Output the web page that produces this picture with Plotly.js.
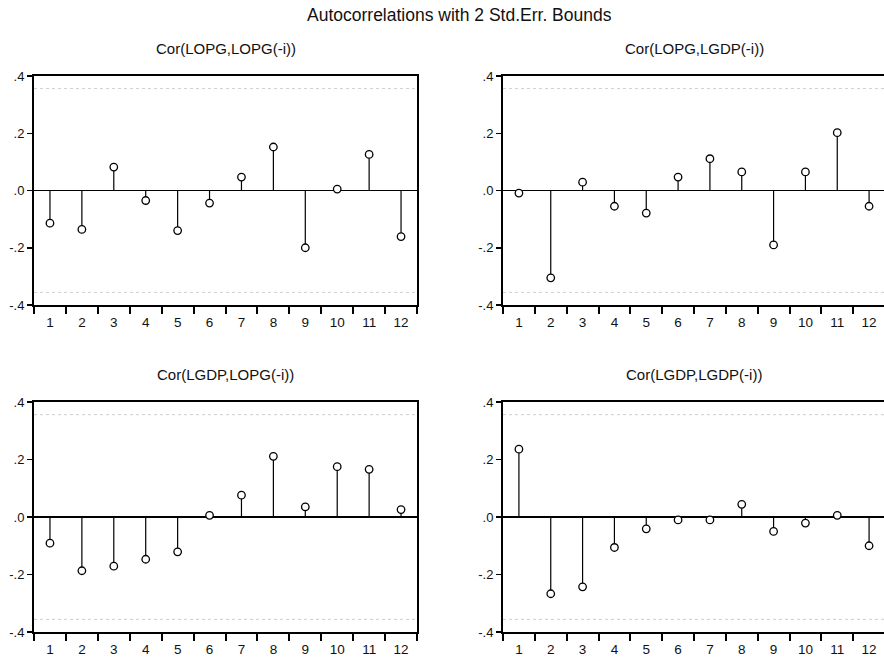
<!DOCTYPE html>
<html><head><meta charset="utf-8">
<script src="https://cdn.plot.ly/plotly-3.0.1.min.js"></script>
<style>html,body{margin:0;padding:0;overflow:hidden;background:#fff}</style>
</head><body><div id="chart" style="width:887px;height:658px"></div>
<script>
const mainTitle = 'Autocorrelations with 2 Std.Err. Bounds';
const lags = [1,2,3,4,5,6,7,8,9,10,11,12];
const xTickText = ['1','2','3','4','5','6','7','8','9','10','11','12'];
const panelTitles = ['Cor(LOPG,LOPG(-i))','Cor(LOPG,LGDP(-i))','Cor(LGDP,LOPG(-i))','Cor(LGDP,LGDP(-i))'];
const corLOPG_LOPG = [-0.114,-0.136,0.082,-0.035,-0.140,-0.044,0.047,0.152,-0.200,0.005,0.126,-0.161];
const corLOPG_LGDP = [-0.009,-0.305,0.029,-0.055,-0.079,0.047,0.111,0.065,-0.190,0.065,0.202,-0.055];
const corLGDP_LOPG = [-0.091,-0.187,-0.171,-0.147,-0.121,0.006,0.076,0.211,0.035,0.175,0.166,0.026];
const corLGDP_LGDP = [0.236,-0.267,-0.243,-0.106,-0.041,-0.010,-0.010,0.044,-0.050,-0.021,0.006,-0.100];
const stdErrBound = 0.356;
const yTickVals = [-0.4,-0.2,0,0.2,0.4];
const yTickText = ['-.4','-.2','.0','.2','.4'];

const series = [corLOPG_LOPG, corLOPG_LGDP, corLGDP_LOPG, corLGDP_LGDP];
const W = 887, H = 658;
// pixel boxes [left, right, top, bottom]
const boxes = [[34,417,76,305],[503,885,76,305],[34,417,402,632],[503,885,402,632]];
const font = 'Arial, "Liberation Sans", sans-serif';

const traces = [];
const layout = {
  width: W, height: H, margin:{l:0,r:0,t:0,b:0},
  paper_bgcolor:'#fff', plot_bgcolor:'#fff', showlegend:false,
  font:{family:font, color:'#000', size:12},
  annotations:[], shapes:[]
};
layout.annotations.push({text: mainTitle, xref:'paper', yref:'paper', x: 459/W, y: 1-15/H,
  xanchor:'center', yanchor:'middle', showarrow:false, font:{size:17.5, family:font, color:'#111'}});

const halfTicks = [];
for (let i=0;i<=lags.length;i++) halfTicks.push(lags[0]-0.5+i);

series.forEach((vals, k) => {
  const n = k+1;
  const xa = n===1?'x':'x'+n, ya = n===1?'y':'y'+n;
  const b = boxes[k];
  // bounds
  [stdErrBound, -stdErrBound].forEach(bv => {
    traces.push({type:'scatter', mode:'lines', xaxis:xa, yaxis:ya,
      x:[halfTicks[0], halfTicks[halfTicks.length-1]], y:[bv,bv],
      line:{color:'#cfcfcf', width:1, dash:'dot'}, hoverinfo:'skip'});
  });
  // stems
  const sx=[], sy=[];
  lags.forEach((l,i)=>{ sx.push(l,l,null); sy.push(0,vals[i],null); });
  traces.push({type:'scatter', mode:'lines', xaxis:xa, yaxis:ya, x:sx, y:sy,
    line:{color:'#000', width:1.2}, hoverinfo:'skip'});
  traces.push({type:'scatter', mode:'markers', xaxis:xa, yaxis:ya, x:lags, y:vals,
    marker:{symbol:'circle', size:7.5, color:'#fff', line:{color:'#000', width:1.3}}});

  const xname = n===1?'xaxis':'xaxis'+n, yname = n===1?'yaxis':'yaxis'+n;
  layout[xname] = {domain:[b[0]/W, b[1]/W], anchor:ya, range:[halfTicks[0], halfTicks[halfTicks.length-1]],
    tickmode:'array', tickvals:lags, ticktext:xTickText, ticks:'', ticklen:0, ticklabelstandoff:4,
    showgrid:false, zeroline:false, showline:true, mirror:true, linecolor:'#000', linewidth:2,
    tickfont:{size:13.5, family:font, color:'#111'}, fixedrange:true,
    minor:{tickmode:'array', tickvals:halfTicks, ticks:'outside', ticklen:7, tickwidth:2, tickcolor:'#000', showgrid:false}};
  layout[yname] = {domain:[1-b[3]/H, 1-b[2]/H], anchor:xa, range:[-0.4,0.4],
    tickmode:'array', tickvals:yTickVals, ticktext:yTickText, ticks:'outside', ticklen:5, tickwidth:1.5, tickcolor:'#000',
    showgrid:false, zeroline:true, zerolinecolor:'#000', zerolinewidth:1.5,
    showline:true, mirror:true, linecolor:'#000', linewidth:2,
    tickfont:{size:13, family:font, color:'#111'}, fixedrange:true};
  layout.annotations.push({text: panelTitles[k], xref:'paper', yref:'paper',
    x:(b[0]+b[1])/2/W, y:1-(b[2]-28)/H, xanchor:'center', yanchor:'middle', showarrow:false,
    font:{size:15, family:font, color:'#111'}});
});

Plotly.newPlot('chart', traces, layout, {displayModeBar:false, staticPlot:true});
</script></body></html>
